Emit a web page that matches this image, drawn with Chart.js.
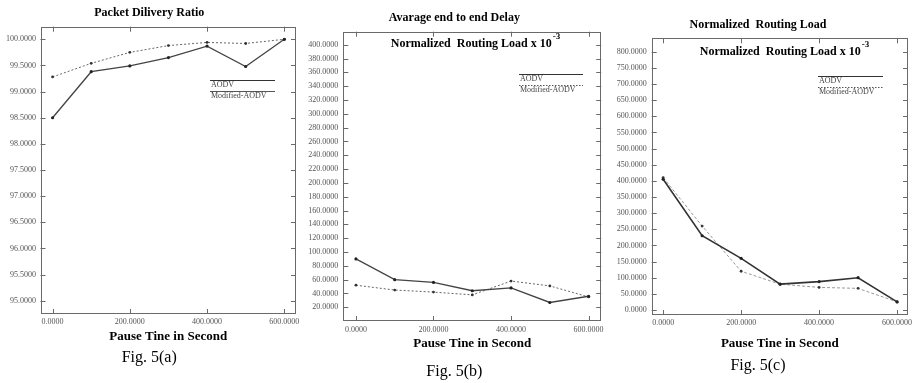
<!DOCTYPE html>
<html>
<head>
<meta charset="utf-8">
<title>Fig. 5</title>
<script src="https://cdn.jsdelivr.net/npm/chart.js@4.4.1/dist/chart.umd.min.js"></script>
<style>
  body { margin: 0; background: #fff; }
  canvas { position: absolute; top: 0; }
</style>
</head>
<body>
<canvas id="pdr" width="303" height="383" style="left:0px"></canvas>
<canvas id="delay" width="305" height="383" style="left:303px"></canvas>
<canvas id="nrl" width="310" height="383" style="left:608px"></canvas>
<script>
// data
const pauseTimes = [0, 100, 200, 300, 400, 500, 600];
const xTicks = [0, 200, 400, 600];

const pdrAodv = [98.5, 99.38, 99.49, 99.65, 99.87, 99.48, 100.0];
const pdrModified = [99.28, 99.54, 99.75, 99.88, 99.94, 99.92, 100.0];
const pdrTicks = [95, 95.5, 96, 96.5, 97, 97.5, 98, 98.5, 99, 99.5, 100];

const delayAodv = [90, 60, 56, 44, 48, 27, 36];
const delayModified = [52, 45, 42, 38, 58, 51, 35];
const delayTicks = [20, 40, 60, 80, 100, 120, 140, 160, 180, 200, 220, 240, 260, 280, 300, 320, 340, 360, 380, 400];

const nrlAodv = [405, 230, 160, 80, 88, 100, 25];
const nrlModified = [410, 260, 120, 80, 70, 67, 25];
const nrlTicks = [0, 50, 100, 150, 200, 250, 300, 350, 400, 450, 500, 550, 600, 650, 700, 750, 800];

const serif = '"Liberation Serif", "Times New Roman", serif';

// box, inside ticks, hand made legend and the inner heading
const frame = {
  id: 'frame',
  beforeDatasetsDraw(chart, args, o) {
    const {ctx, chartArea: a, scales} = chart;
    ctx.save();
    ctx.strokeStyle = '#6a6a6a';
    ctx.lineWidth = 1;
    ctx.strokeRect(Math.round(a.left) + 0.5, Math.round(a.top) + 0.5,
      Math.round(a.width) - 1, Math.round(a.height) - 1);
    ctx.beginPath();
    scales.y.ticks.forEach(t => {
      const py = Math.round(scales.y.getPixelForValue(t.value)) + 0.5;
      ctx.moveTo(a.left, py); ctx.lineTo(a.left + 5, py);
      ctx.moveTo(a.right, py); ctx.lineTo(a.right - 5, py);
    });
    scales.x.ticks.forEach(t => {
      const px = Math.round(scales.x.getPixelForValue(t.value)) + 0.5;
      ctx.moveTo(px, a.top); ctx.lineTo(px, a.top + 5);
      ctx.moveTo(px, a.bottom); ctx.lineTo(px, a.bottom - 5);
    });
    ctx.stroke();

    // legend: line above each label
    const lg = o.legend;
    ctx.font = '8px ' + serif;
    ctx.fillStyle = '#444';
    ctx.textBaseline = 'middle';
    ctx.textAlign = 'left';
    ctx.strokeStyle = '#333';
    ctx.beginPath();
    ctx.moveTo(lg.x1, lg.y + 0.5); ctx.lineTo(lg.x2, lg.y + 0.5);
    ctx.stroke();
    ctx.fillText('AODV', lg.x1 + 1, lg.y + 5);
    ctx.strokeStyle = '#555';
    ctx.setLineDash(lg.dash);
    ctx.beginPath();
    ctx.moveTo(lg.x1, lg.y + 11.5); ctx.lineTo(lg.x2, lg.y + 11.5);
    ctx.stroke();
    ctx.setLineDash([]);
    ctx.fillText('Modified-AODV', lg.x1 + 1, lg.y + 16);

    if (o.heading) {
      const main = 'Normalized  Routing Load x 10';
      ctx.fillStyle = '#000';
      ctx.font = 'bold 12px ' + serif;
      const w1 = ctx.measureText(main).width;
      ctx.font = 'bold 9px ' + serif;
      const w2 = ctx.measureText('-3').width;
      const x0 = o.heading.x - (w1 + w2 + 1) / 2;
      ctx.font = 'bold 12px ' + serif;
      ctx.fillText(main, x0, o.heading.y);
      ctx.font = 'bold 9px ' + serif;
      ctx.fillText('-3', x0 + w1 + 1, o.heading.y - 7);
    }
    ctx.restore();
  }
};

function panel(id, p) {
  const pts = vals => pauseTimes.map((t, i) => ({x: t, y: vals[i]}));
  return new Chart(document.getElementById(id), {
    type: 'line',
    data: {
      datasets: [
        {
          label: 'AODV', data: pts(p.aodv),
          borderColor: p.c1, borderWidth: p.w1,
          pointRadius: 1.6, pointBackgroundColor: '#222', pointBorderWidth: 0
        },
        {
          label: 'Modified-AODV', data: pts(p.modified),
          borderColor: p.c2, borderWidth: 1, borderDash: p.dash,
          pointRadius: 1.4, pointBackgroundColor: '#333', pointBorderWidth: 0
        }
      ]
    },
    options: {
      responsive: false,
      animation: false,
      layout: {padding: {left: 0, right: p.padRight, top: 0, bottom: 0}},
      plugins: {
        legend: {display: false},
        tooltip: {enabled: false},
        title: {
          display: true, text: p.title, color: '#000',
          font: {family: serif, size: 12, weight: 'bold'},
          padding: {top: p.titleTop, bottom: p.titleBottom}
        },
        subtitle: {
          display: true, position: 'bottom', text: p.fig, color: '#000',
          font: {family: serif, size: 16},
          padding: {top: 2, bottom: p.figBottom}
        },
        frame: {legend: p.legend, heading: p.heading}
      },
      scales: {
        x: {
          type: 'linear', min: p.xMin, max: p.xMax,
          afterBuildTicks: s => { s.ticks = xTicks.map(v => ({value: v})); },
          afterFit: s => { s.height = p.xHeight; },
          grid: {display: false, drawTicks: false}, border: {display: false},
          ticks: {font: {family: serif, size: 8}, color: '#555', padding: p.xPad, maxRotation: 0,
            callback: v => v.toFixed(4)},
          title: {display: true, text: 'Pause Tine in Second', color: '#000',
            font: {family: serif, size: 13, weight: 'bold'},
            padding: {top: 0, bottom: p.xTitleBottom}}
        },
        y: {
          min: p.yMin, max: p.yMax,
          afterBuildTicks: s => { s.ticks = p.yTicks.map(v => ({value: v})); },
          afterFit: s => { s.width = p.yWidth; },
          grid: {display: false, drawTicks: false}, border: {display: false},
          ticks: {font: {family: serif, size: 8}, color: '#555', padding: p.yPad,
            callback: v => v.toFixed(4)}
        }
      }
    },
    plugins: [frame]
  });
}

panel('pdr', {
  title: 'Packet Dilivery Ratio', fig: 'Fig. 5(a)',
  aodv: pdrAodv, modified: pdrModified, yTicks: pdrTicks,
  c1: '#444', w1: 1.3, c2: '#666', dash: [2, 2],
  yMin: 94.746, yMax: 100.241, xMin: -31.3, xMax: 630.3,
  yWidth: 40.5, padRight: 4.5, yPad: 4.5, xPad: 3.5,
  titleTop: 6.1, titleBottom: 6.2, figBottom: 15.4, xHeight: 32.4, xTitleBottom: 1.9,
  legend: {x1: 210, x2: 275, y: 80, dash: []}
});

panel('delay', {
  title: 'Avarage end to end Delay', fig: 'Fig. 5(b)',
  aodv: delayAodv, modified: delayModified, yTicks: delayTicks,
  c1: '#444', w1: 1.3, c2: '#666', dash: [2, 2],
  yMin: 0.2, yMax: 418.8, xMin: -32.6, xMax: 632.6,
  yWidth: 40.3, padRight: 2.3, yPad: 5, xPad: 4.2,
  titleTop: 11.1, titleBottom: 6.2, figBottom: 1.4, xHeight: 39.4, xTitleBottom: 9.1,
  legend: {x1: 216, x2: 280, y: 74, dash: [1.5, 1.5]},
  heading: {x: 172.5, y: 44}
});

panel('nrl', {
  title: 'Normalized  Routing Load', fig: 'Fig. 5(c)',
  aodv: nrlAodv, modified: nrlModified, yTicks: nrlTicks,
  c1: '#333', w1: 1.6, c2: '#999', dash: [3, 2],
  yMin: -15.5, yMax: 841.5, xMin: -29.4, xMax: 628,
  yWidth: 43.7, padRight: 10, yPad: 5, xPad: 3.5,
  titleTop: 17.8, titleBottom: 6.1, figBottom: 7.4, xHeight: 39.4, xTitleBottom: 3.3,
  legend: {x1: 210, x2: 275, y: 76, dash: [1.5, 1.5]},
  heading: {x: 176.5, y: 52}
});
</script>
</body>
</html>
